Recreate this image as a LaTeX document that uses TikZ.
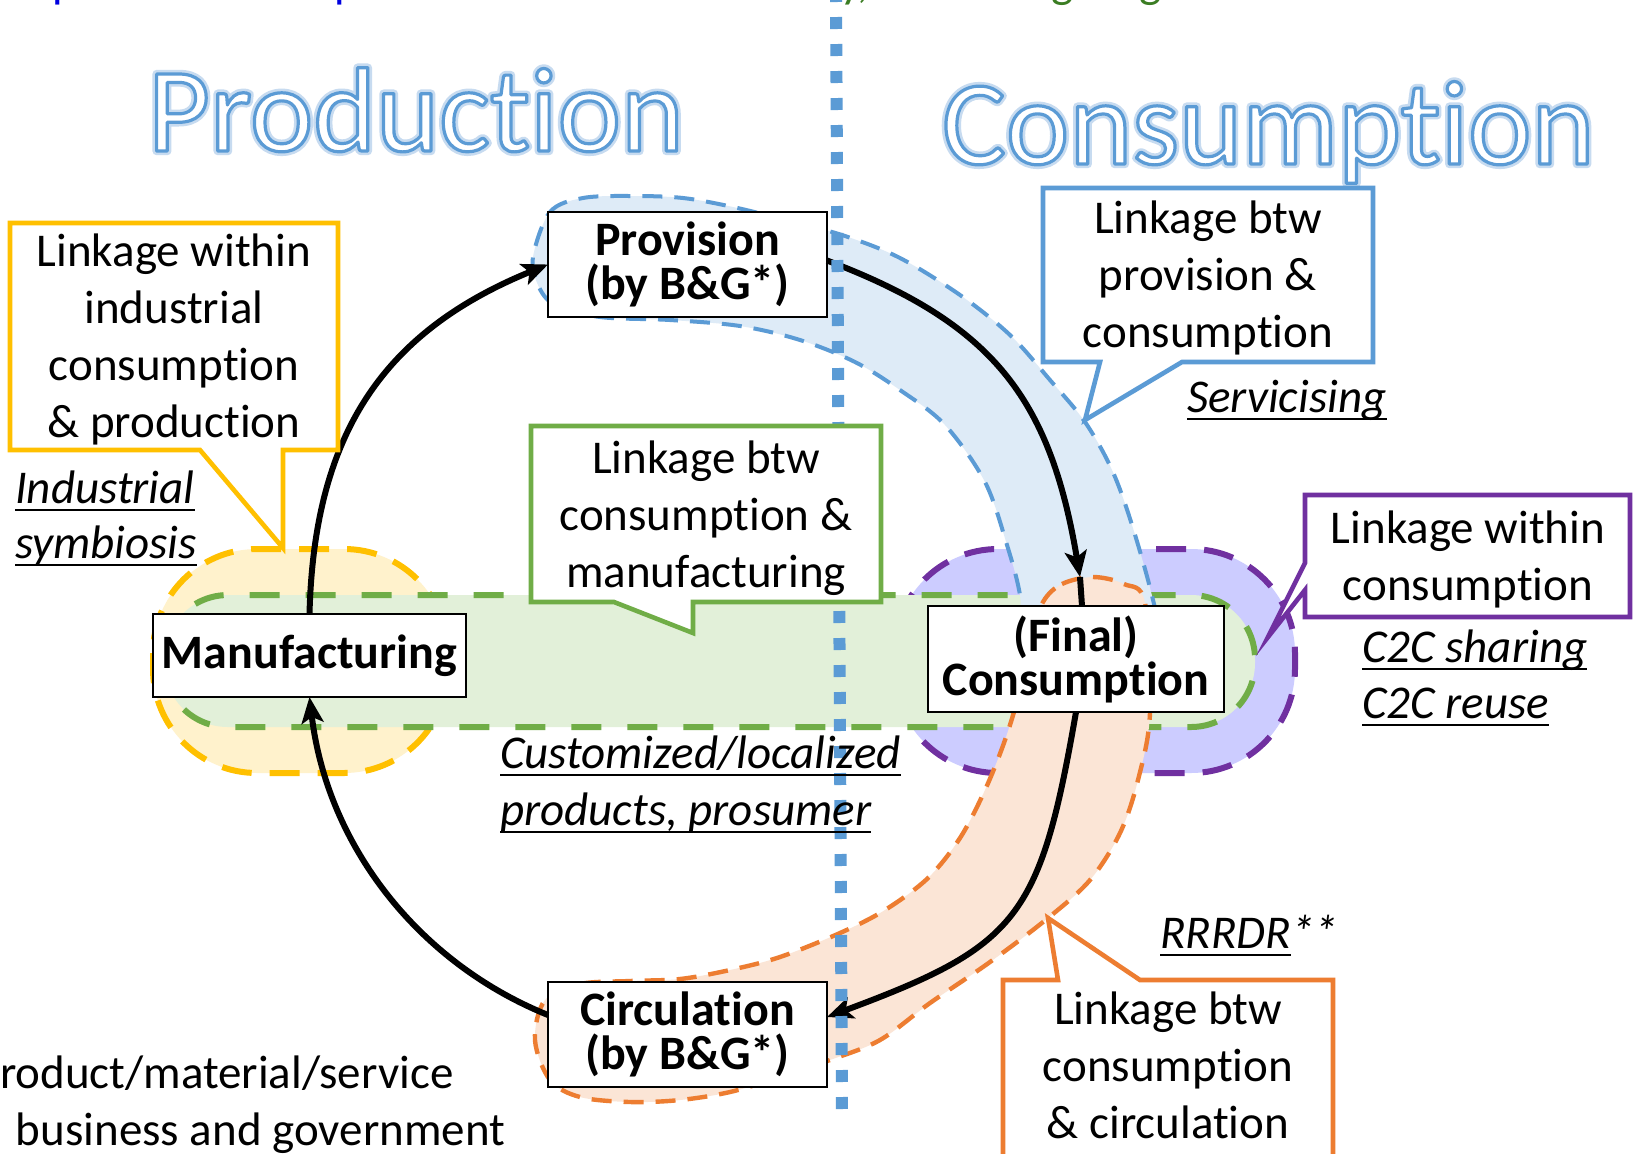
\documentclass[tikz,border=0pt]{standalone}
\usepackage{fontspec}
\setmainfont{Carlito}[Ligatures=NoCommon]
\usetikzlibrary{arrows.meta}
\definecolor{oblue}{HTML}{5B9BD5}
\definecolor{obluefill}{HTML}{DEEBF7}
\definecolor{oorange}{HTML}{ED7D31}
\definecolor{oorangefill}{HTML}{FBE5D6}
\definecolor{ogreen}{HTML}{70AD47}
\definecolor{ogreenfill}{HTML}{E2F0D9}
\definecolor{oyellow}{HTML}{FFC000}
\definecolor{oyellowfill}{HTML}{FFF2CC}
\definecolor{opurple}{HTML}{7030A0}
\definecolor{opurplefill}{HTML}{CCCCFF}
\definecolor{topblue}{HTML}{0000E0}
\definecolor{topgreen}{HTML}{3B7D23}
\newsavebox\myulbox
\newcommand\myul[1]{\sbox\myulbox{#1}\rlap{\vrule width\wd\myulbox height -3pt depth 4.1pt}\usebox\myulbox}
\newcommand\bodyfont{\fontsize{23.5}{28.5}\selectfont}
\newcommand\boxfont{\fontsize{24}{22}\selectfont\bfseries}
\newcommand\titlefont{\fontsize{60}{72}\selectfont}
\newcommand\outlined[1]{\color{white}%
  \rlap{\special{pdf:literal direct 2 Tr 4.2 w 1 j 0.78 0.86 0.94 RG}#1\special{pdf:literal direct 0 Tr}}%
  \special{pdf:literal direct 2 Tr 1.6 w 1 j 0.357 0.608 0.835 RG}#1\special{pdf:literal direct 0 Tr}}
\begin{document}
\begin{tikzpicture}[x=0.5pt,y=-0.5pt,
  every node/.style={inner sep=0pt, outer sep=0pt},
  stagebox/.style={draw=black, line width=1pt, fill=white, align=center, font=\boxfont},
  flow/.style={line width=3pt, draw=black},
  tipped/.style={-{Stealth[length=13pt,width=11pt,inset=3pt]}},
  callout/.style={fill=white, line width=2.3pt, line join=miter},
  blabel/.style={font=\bodyfont, align=center, text=black},
  ilabel/.style={font=\bodyfont\itshape, anchor=base west},
  yellowblob/.style={fill=oyellowfill, draw=oyellow, line width=3pt, dash pattern=on 15pt off 9pt, rounded corners=52pt},
  purpleblob/.style={fill=opurplefill, draw=opurple, line width=3pt, dash pattern=on 15pt off 9pt, rounded corners=52pt},
  greenband/.style={fill=ogreenfill, draw=ogreen, line width=3pt, dash pattern=on 15pt off 13pt, rounded corners=32pt},
  blueband/.style={fill=obluefill, draw=oblue, line width=2pt, dash pattern=on 10pt off 6pt},
  orangeband/.style={fill=oorangefill, draw=oorange, line width=2.2pt, dash pattern=on 10pt off 6pt},
  dotline/.style={draw=oblue, line width=6pt, dash pattern=on 6pt off 7.5pt}
]
\useasboundingbox (0,0) rectangle (1633,1153);
\clip (0,0) rectangle (1633,1153);
\fill[white] (0,0) rectangle (1633,1153);

% top fragments of cut-off text
\node[font=\bodyfont, text=topblue, anchor=base west] (frag1) at (53,-3) {p};
\node[font=\bodyfont, text=topblue, anchor=base west] (frag2) at (334,-3) {p};
\node[font=\bodyfont, text=topgreen, anchor=base west] (frag3) at (840,-3) {y,};
\node[font=\bodyfont, text=topgreen, anchor=base west] (frag4) at (1051,-3) {g};
\node[font=\bodyfont, text=topgreen, anchor=base west] (frag5) at (1139,-3) {g};

% titles
\node[anchor=base west, font=\titlefont] (tprod) at (148,151) {\outlined{Production}};
\node[anchor=base west, font=\titlefont] (tcons) at (942,164) {\outlined{Consumption}};

% background blobs and bands
\path[yellowblob] (153,549) rectangle (448,773);
\path[purpleblob] (894,549) rectangle (1295,773);
\path[greenband] (164,595) rectangle (1255,727);
\path[blueband] plot[smooth cycle, tension=0.55] coordinates {(533,257) (550,212) (583,198) (633,196) (683,198) (733,207) (790,221) (845,236) (900,258) (960,295) (1010,335) (1050,380) (1085,422) (1112,470) (1132,525) (1153,600) (1160,650) (1090,668) (1025,650) (1020,595) (1007,545) (985,482) (945,425) (900,390) (855,362) (800,340) (740,326) (670,320) (600,317) (555,305) (538,285)};
\path[orangeband] plot[smooth cycle, tension=0.55] coordinates {(1043,602) (1062,584) (1093,577) (1124,584) (1145,603) (1150,713) (1138,780) (1120,833) (1090,880) (1048,918) (990,962) (930,1003) (880,1040) (830,1060) (780,1077) (730,1092) (680,1100) (630,1102) (580,1097) (550,1080) (535,1040) (545,1000) (580,984) (630,981) (680,979) (730,970) (780,957) (840,933) (885,910) (928,878) (960,838) (985,790) (1005,740) (1020,690) (1030,640)};

% stage boxes
\node[stagebox, minimum width=139.5pt, minimum height=52.5pt] (prov) at (687.5,264.5) {Provision\\(by B\&G*)};
\node[stagebox, minimum width=139.5pt, minimum height=52.5pt] (circ) at (687.5,1034.5) {Circulation\\(by B\&G*)};
\node[stagebox, minimum width=156.5pt, minimum height=41.5pt] (manu) at (309.5,655.5) {Manufacturing};
\node[stagebox, minimum width=148pt, minimum height=53pt] (cons) at (1076,659) {(Final)\\Consumption};

% flow arrows
\coordinate (c2tip) at (1080,577);
\draw[flow, tipped] (manu.north) .. controls (314,432) and (385,331) .. (prov.west);
\draw[flow, tipped] ([yshift=2pt]prov.east) .. controls (992,323) and (1050,397) .. (c2tip);
\draw[flow] (c2tip) -- ([xshift=3pt]cons.north);
\draw[flow, tipped] (cons.south) .. controls (1040,919) and (1018,946) .. ([yshift=8.75pt]circ.east);
\draw[flow, tipped] ([yshift=9.75pt]circ.west) .. controls (417,962) and (327,844) .. (manu.south);

% dotted divider
\coordinate (dtop) at (836,-10);
\coordinate (dbot) at (842,1114);
\draw[dotline] (dtop) -- (dbot);

% callouts
\filldraw[callout, draw=oyellow] (10,223) -- (338,223) -- (338,450) -- (283,450) -- (283,548) -- (200,450) -- (10,450) -- cycle;
\node[blabel] (ytext) at (174,339) {Linkage within\\industrial\\consumption\\\& production};

\filldraw[callout, draw=oblue] (1043,188) -- (1373,188) -- (1373,362) -- (1182,362) -- (1085,420) -- (1100,362) -- (1043,362) -- cycle;
\node[blabel] (btext) at (1208,278) {Linkage btw\\provision \&\\consumption};

\filldraw[callout, draw=ogreen] (531,426) -- (881,426) -- (881,602) -- (693,602) -- (693,633) -- (614,602) -- (531,602) -- cycle;
\node[blabel] (gtext) at (706,518) {Linkage btw\\consumption \&\\manufacturing};

\filldraw[callout, draw=opurple] (1305,495) -- (1630,495) -- (1630,617) -- (1305,617) -- (1305,590) -- (1268,637) -- (1305,563) -- cycle;
\node[blabel] (ptext) at (1468,559) {Linkage within\\consumption};

\filldraw[callout, draw=oorange] (1003,980) -- (1058,980) -- (1048,918) -- (1140,980) -- (1333,980) -- (1333,1170) -- (1003,1170) -- cycle;
\node[blabel] (otext) at (1168,1065) {Linkage btw\\consumption\\\& circulation};

% italic labels
\node[ilabel] (lab1) at (15,503) {\myul{Industrial}};
\node[ilabel] (lab2) at (15,558) {\myul{symbiosis}};
\node[ilabel] (lab3) at (1187,412) {\myul{Servicising}};
\node[ilabel] (lab4) at (1362,662) {\myul{C2C sharing}};
\node[ilabel] (lab5) at (1362,718) {\myul{C2C reuse}};
\node[ilabel] (lab6) at (500,768) {\myul{Customized/localized}};
\node[ilabel] (lab7) at (500,825) {\myul{products, prosumer}};
\node[ilabel] (lab8) at (1160,948) {\myul{RRRDR}**};

% footnote text
\node[font=\bodyfont, anchor=base west] (foot1) at (0,1088) {roduct/material/service};
\node[font=\bodyfont, anchor=base west] (foot2) at (16,1145) {business and government};
\end{tikzpicture}
\end{document}
